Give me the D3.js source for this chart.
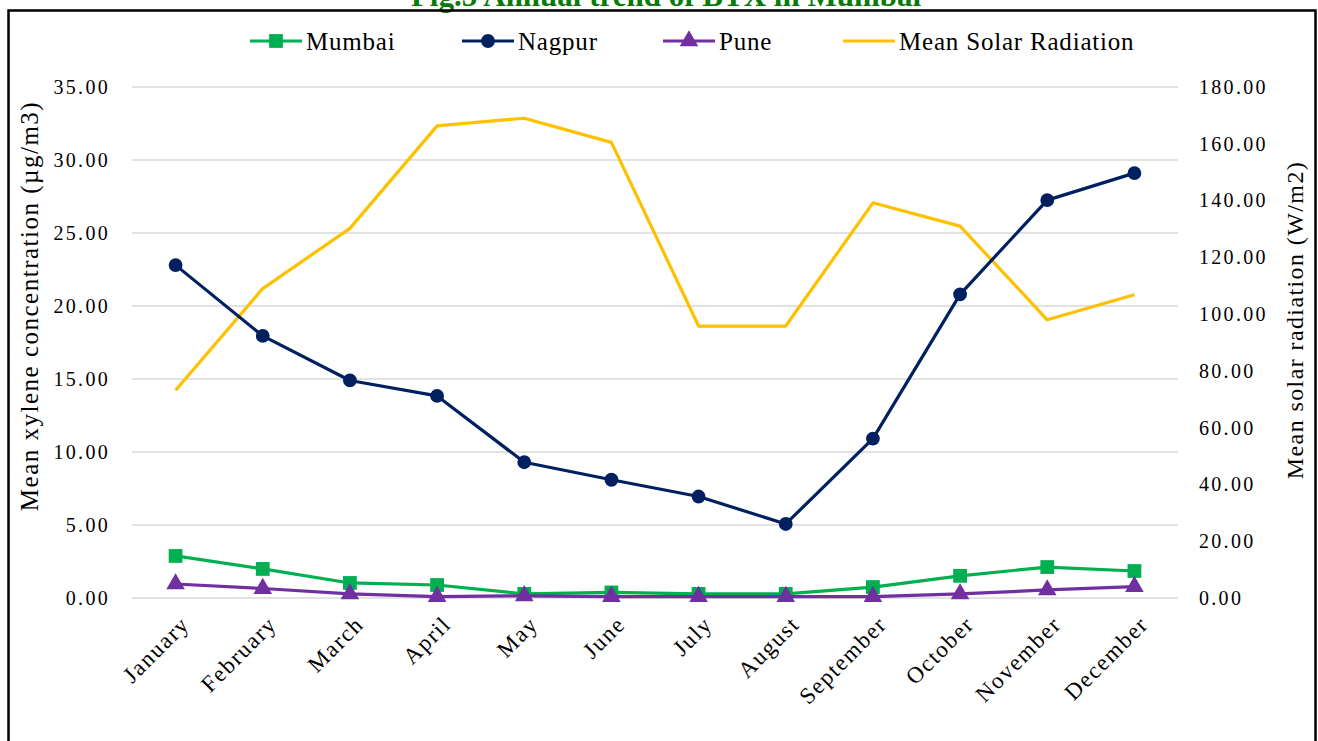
<!DOCTYPE html>
<html>
<head>
<meta charset="utf-8">
<script src="https://cdn.jsdelivr.net/npm/d3@7"></script>
<style>
  body { margin: 0; background: #fff; }
  svg { display: block; font-family: "Liberation Serif", "Times New Roman", serif; }
</style>
</head>
<body>
<div id="chart"></div>
<script>
const WIDTH = 1318;
const HEIGHT = 741;

// data
const months = ["January", "February", "March", "April", "May", "June",
  "July", "August", "September", "October", "November", "December"];
const mumbai = [2.88, 1.99, 1.03, 0.89, 0.28, 0.38, 0.28, 0.28, 0.75, 1.52, 2.12, 1.85];
const nagpur = [22.8, 17.95, 14.9, 13.84, 9.3, 8.1, 6.95, 5.07, 10.92, 20.8, 27.25, 29.1];
const pune = [0.96, 0.65, 0.28, 0.1, 0.15, 0.1, 0.1, 0.1, 0.1, 0.28, 0.55, 0.78];
const solar = [73.2, 109.0, 130.2, 166.3, 169.0, 160.5, 95.8, 95.8, 139.2, 131.0, 98.0, 106.8];
const leftTicks = [0, 5, 10, 15, 20, 25, 30, 35];
const rightTicks = [0, 20, 40, 60, 80, 100, 120, 140, 160, 180];

const COLOR = {
  mumbai: "#00b050",
  nagpur: "#002060",
  pune: "#7030a0",
  solar: "#ffc000"
};

const svg = d3.select("#chart").append("svg")
  .attr("width", WIDTH)
  .attr("height", HEIGHT);

// title, cut off at the top edge as in the figure
svg.append("text")
  .attr("x", 666).attr("y", 6)
  .attr("text-anchor", "middle")
  .style("font-size", "31px")
  .style("font-weight", "bold")
  .style("fill", "#0a7a0a")
  .text("Fig.5 Annual trend of BTX in Mumbai");

// frame
svg.append("rect")
  .attr("x", 8.5).attr("y", 10.5)
  .attr("width", 1307).attr("height", 760)
  .attr("fill", "none")
  .attr("stroke", "#000")
  .attr("stroke-width", 2.5);

const x = d3.scalePoint().domain(months).range([132, 1178]).padding(0.5);
const yL = d3.scaleLinear().domain([0, 35]).range([598, 87]);
const yR = d3.scaleLinear().domain([0, 180]).range([598, 87]);

// gridlines
svg.append("g").selectAll("line")
  .data(leftTicks)
  .enter().append("line")
  .attr("x1", 132).attr("x2", 1178)
  .attr("y1", d => yL(d)).attr("y2", d => yL(d))
  .attr("stroke", "#d9d9d9")
  .attr("stroke-width", 1.3);

const tickStyle = g => {
  g.select(".domain").remove();
  g.selectAll(".tick line").remove();
  g.selectAll(".tick text")
    .style("font-size", "20px")
    .style("letter-spacing", "2.3px")
    .style("fill", "#000")
    .style("font-family", "Liberation Serif, serif");
};

svg.append("g")
  .attr("transform", "translate(110,0)")
  .call(d3.axisLeft(yL).tickValues(leftTicks).tickFormat(d3.format(".2f")).tickSize(0).tickPadding(0))
  .call(tickStyle);

svg.append("g")
  .attr("transform", "translate(1199,0)")
  .call(d3.axisRight(yR).tickValues(rightTicks).tickFormat(d3.format(".2f")).tickSize(0).tickPadding(0))
  .call(tickStyle);

// month labels
const xAxis = svg.append("g")
  .attr("transform", "translate(0,598)")
  .call(d3.axisBottom(x).tickSize(0).tickPadding(0));
xAxis.select(".domain").remove();
xAxis.selectAll(".tick text")
  .attr("text-anchor", "end")
  .attr("transform", "translate(9,22) rotate(-45)")
  .attr("dy", "0.35em")
  .attr("y", 0)
  .style("font-size", "23px")
  .style("letter-spacing", "1.6px")
  .style("fill", "#000")
  .style("font-family", "Liberation Serif, serif");

// axis titles
svg.append("text")
  .attr("transform", "translate(38,306) rotate(-90)")
  .attr("text-anchor", "middle")
  .style("font-size", "25px")
  .style("letter-spacing", "1.5px")
  .text("Mean xylene concentration (µg/m3)");

svg.append("text")
  .attr("transform", "translate(1303,320) rotate(-90)")
  .attr("text-anchor", "middle")
  .style("font-size", "24px")
  .style("letter-spacing", "1.4px")
  .text("Mean solar radiation (W/m2)");

// series
const series = [
  { name: "Mean Solar Radiation", values: solar, y: yR, color: COLOR.solar, marker: null },
  { name: "Nagpur", values: nagpur, y: yL, color: COLOR.nagpur, marker: "circle" },
  { name: "Mumbai", values: mumbai, y: yL, color: COLOR.mumbai, marker: "square" },
  { name: "Pune", values: pune, y: yL, color: COLOR.pune, marker: "triangle" }
];

const symbolFor = m => {
  if (m === "circle") return d3.symbol().type(d3.symbolCircle).size(150);
  if (m === "square") return d3.symbol().type(d3.symbolSquare).size(190);
  return d3.symbol().type(d3.symbolTriangle).size(150);
};

series.forEach(s => {
  const line = d3.line()
    .x((d, i) => x(months[i]))
    .y(d => s.y(d));
  svg.append("path")
    .datum(s.values)
    .attr("d", line)
    .attr("fill", "none")
    .attr("stroke", s.color)
    .attr("stroke-width", 3.2)
    .attr("stroke-linejoin", "round");
  if (s.marker) {
    svg.append("g").selectAll("path")
      .data(s.values)
      .enter().append("path")
      .attr("d", symbolFor(s.marker))
      .attr("transform", (d, i) => "translate(" + x(months[i]) + "," + s.y(d) + ")")
      .attr("fill", s.color);
  }
});

// legend
const legendItems = [
  { name: "Mumbai", color: COLOR.mumbai, marker: "square", x: 250 },
  { name: "Nagpur", color: COLOR.nagpur, marker: "circle", x: 462 },
  { name: "Pune", color: COLOR.pune, marker: "triangle", x: 663 },
  { name: "Mean Solar Radiation", color: COLOR.solar, marker: null, x: 843 }
];
const legend = svg.append("g");
legendItems.forEach(item => {
  const g = legend.append("g").attr("transform", "translate(" + item.x + ",41)");
  g.append("line")
    .attr("x1", 0).attr("x2", 52)
    .attr("stroke", item.color)
    .attr("stroke-width", 3.2);
  if (item.marker) {
    g.append("path")
      .attr("d", symbolFor(item.marker))
      .attr("transform", "translate(26,0)")
      .attr("fill", item.color);
  }
  g.append("text")
    .attr("x", 56).attr("dy", "0.35em")
    .style("font-size", "25px")
    .style("letter-spacing", "0.8px")
    .text(item.name);
});
</script>
</body>
</html>
